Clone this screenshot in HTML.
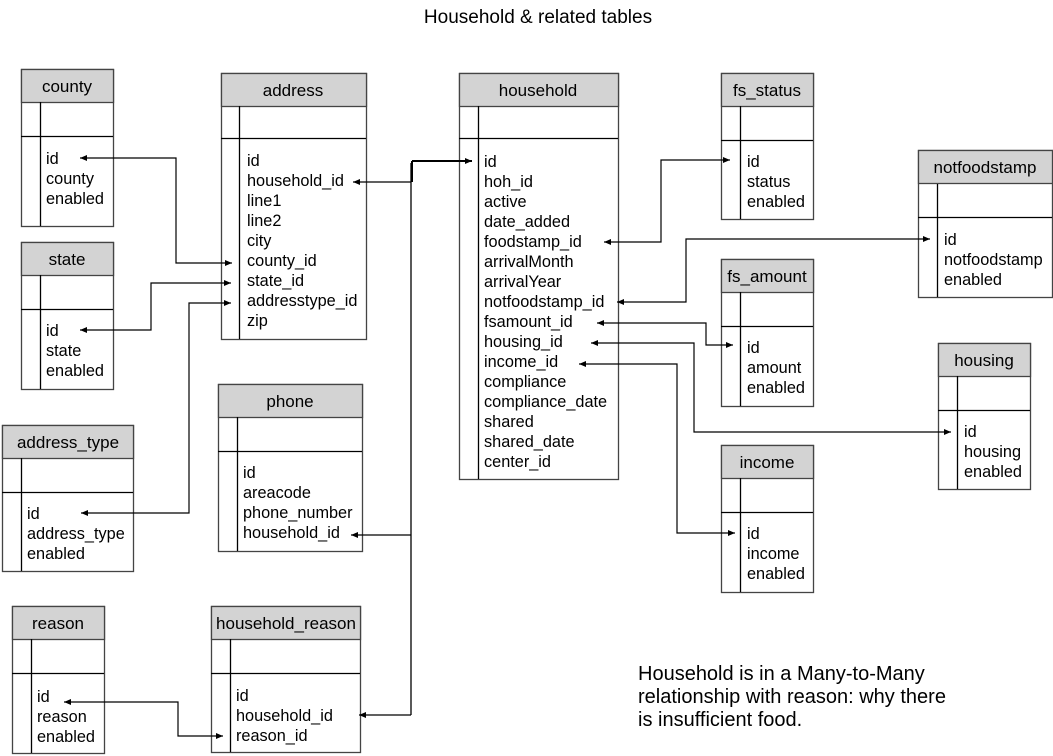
<!DOCTYPE html>
<html><head><meta charset="utf-8"><style>
html,body{margin:0;padding:0;background:#fff;}
svg{display:block;font-family:"Liberation Sans",Arial,sans-serif;}
</style></head><body>
<svg width="1053" height="756" viewBox="0 0 1053 756" xmlns="http://www.w3.org/2000/svg">
<defs>
<marker id="a" markerWidth="8" markerHeight="8" refX="7" refY="4" orient="auto-start-reverse" markerUnits="userSpaceOnUse">
<path d="M0,1 L7,4 L0,7 Z" fill="#000"/></marker>
</defs>
<text x="538" y="23" font-size="19" text-anchor="middle">Household &amp; related tables</text>
<g stroke-width="1.3">
<rect x="21.5" y="69.5" width="92" height="157" fill="#fff" stroke="#444"/>
<rect x="21.5" y="69.5" width="92" height="33" fill="#d3d3d3" stroke="#444"/>
<line x1="21" y1="136.5" x2="113" y2="136.5" stroke="#000"/><line x1="40.5" y1="102" x2="40.5" y2="226" stroke="#000"/>
<rect x="21.5" y="242.5" width="92" height="147" fill="#fff" stroke="#444"/>
<rect x="21.5" y="242.5" width="92" height="33" fill="#d3d3d3" stroke="#444"/>
<line x1="21" y1="309.5" x2="113" y2="309.5" stroke="#000"/><line x1="40.5" y1="275" x2="40.5" y2="389" stroke="#000"/>
<rect x="2.5" y="425.5" width="131" height="146" fill="#fff" stroke="#444"/>
<rect x="2.5" y="425.5" width="131" height="33" fill="#d3d3d3" stroke="#444"/>
<line x1="2" y1="492.5" x2="133" y2="492.5" stroke="#000"/><line x1="21.5" y1="458" x2="21.5" y2="571" stroke="#000"/>
<rect x="12.5" y="606.5" width="92" height="147" fill="#fff" stroke="#444"/>
<rect x="12.5" y="606.5" width="92" height="33" fill="#d3d3d3" stroke="#444"/>
<line x1="12" y1="673.5" x2="104" y2="673.5" stroke="#000"/><line x1="31.5" y1="639" x2="31.5" y2="753" stroke="#000"/>
<rect x="221.5" y="73.5" width="145" height="266" fill="#fff" stroke="#444"/>
<rect x="221.5" y="73.5" width="145" height="33" fill="#d3d3d3" stroke="#444"/>
<line x1="221" y1="138.5" x2="366" y2="138.5" stroke="#000"/><line x1="239.5" y1="106" x2="239.5" y2="339" stroke="#000"/>
<rect x="218.5" y="384.5" width="144" height="167" fill="#fff" stroke="#444"/>
<rect x="218.5" y="384.5" width="144" height="33" fill="#d3d3d3" stroke="#444"/>
<line x1="218" y1="451.5" x2="362" y2="451.5" stroke="#000"/><line x1="237.5" y1="417" x2="237.5" y2="551" stroke="#000"/>
<rect x="211.5" y="606.5" width="149" height="146" fill="#fff" stroke="#444"/>
<rect x="211.5" y="606.5" width="149" height="33" fill="#d3d3d3" stroke="#444"/>
<line x1="211" y1="673.5" x2="360" y2="673.5" stroke="#000"/><line x1="230.5" y1="639" x2="230.5" y2="752" stroke="#000"/>
<rect x="459.5" y="73.5" width="159" height="406" fill="#fff" stroke="#444"/>
<rect x="459.5" y="73.5" width="159" height="33" fill="#d3d3d3" stroke="#444"/>
<line x1="459" y1="138.5" x2="618" y2="138.5" stroke="#000"/><line x1="478.5" y1="106" x2="478.5" y2="479" stroke="#000"/>
<rect x="721.5" y="73.5" width="92" height="146" fill="#fff" stroke="#444"/>
<rect x="721.5" y="73.5" width="92" height="33" fill="#d3d3d3" stroke="#444"/>
<line x1="721" y1="140.5" x2="813" y2="140.5" stroke="#000"/><line x1="740.5" y1="106" x2="740.5" y2="219" stroke="#000"/>
<rect x="721.5" y="259.5" width="92" height="147" fill="#fff" stroke="#444"/>
<rect x="721.5" y="259.5" width="92" height="33" fill="#d3d3d3" stroke="#444"/>
<line x1="721" y1="326.5" x2="813" y2="326.5" stroke="#000"/><line x1="740.5" y1="292" x2="740.5" y2="406" stroke="#000"/>
<rect x="721.5" y="445.5" width="92" height="147" fill="#fff" stroke="#444"/>
<rect x="721.5" y="445.5" width="92" height="33" fill="#d3d3d3" stroke="#444"/>
<line x1="721" y1="512.5" x2="813" y2="512.5" stroke="#000"/><line x1="740.5" y1="478" x2="740.5" y2="592" stroke="#000"/>
<rect x="918.5" y="150.5" width="134" height="147" fill="#fff" stroke="#444"/>
<rect x="918.5" y="150.5" width="134" height="33" fill="#d3d3d3" stroke="#444"/>
<line x1="918" y1="217.5" x2="1052" y2="217.5" stroke="#000"/><line x1="937.5" y1="184" x2="937.5" y2="297" stroke="#000"/>
<rect x="938.5" y="343.5" width="92" height="146" fill="#fff" stroke="#444"/>
<rect x="938.5" y="343.5" width="92" height="33" fill="#d3d3d3" stroke="#444"/>
<line x1="938" y1="410.5" x2="1030" y2="410.5" stroke="#000"/><line x1="957.5" y1="376" x2="957.5" y2="489" stroke="#000"/>
</g>
<g font-size="17" text-anchor="middle">
<text x="67" y="92">county</text>
<text x="67" y="265">state</text>
<text x="68" y="448">address_type</text>
<text x="58" y="629">reason</text>
<text x="293" y="96">address</text>
<text x="290" y="407">phone</text>
<text x="286" y="629">household_reason</text>
<text x="538" y="96">household</text>
<text x="767" y="96">fs_status</text>
<text x="767" y="282">fs_amount</text>
<text x="767" y="468">income</text>
<text x="985" y="173">notfoodstamp</text>
<text x="984" y="366">housing</text>
</g>
<g font-size="16.3">
<text x="46" y="164">id</text><text x="46" y="184">county</text><text x="46" y="204">enabled</text>
<text x="46" y="336">id</text><text x="46" y="356">state</text><text x="46" y="376">enabled</text>
<text x="27" y="519">id</text><text x="27" y="539">address_type</text><text x="27" y="559">enabled</text>
<text x="37" y="702">id</text><text x="37" y="722">reason</text><text x="37" y="742">enabled</text>
<text x="247" y="166">id</text><text x="247" y="186">household_id</text><text x="247" y="206">line1</text><text x="247" y="226">line2</text><text x="247" y="246">city</text><text x="247" y="266">county_id</text><text x="247" y="286">state_id</text><text x="247" y="306">addresstype_id</text><text x="247" y="326">zip</text>
<text x="243" y="478">id</text><text x="243" y="498">areacode</text><text x="243" y="518">phone_number</text><text x="243" y="538">household_id</text>
<text x="236" y="701">id</text><text x="236" y="721">household_id</text><text x="236" y="741">reason_id</text>
<text x="484" y="167">id</text><text x="484" y="187">hoh_id</text><text x="484" y="207">active</text><text x="484" y="227">date_added</text><text x="484" y="247">foodstamp_id</text><text x="484" y="267">arrivalMonth</text><text x="484" y="287">arrivalYear</text><text x="484" y="307">notfoodstamp_id</text><text x="484" y="327">fsamount_id</text><text x="484" y="347">housing_id</text><text x="484" y="367">income_id</text><text x="484" y="387">compliance</text><text x="484" y="407">compliance_date</text><text x="484" y="427">shared</text><text x="484" y="447">shared_date</text><text x="484" y="467">center_id</text>
<text x="747" y="167">id</text><text x="747" y="187">status</text><text x="747" y="207">enabled</text>
<text x="747" y="353">id</text><text x="747" y="373">amount</text><text x="747" y="393">enabled</text>
<text x="747" y="539">id</text><text x="747" y="559">income</text><text x="747" y="579">enabled</text>
<text x="944" y="245">id</text><text x="944" y="265">notfoodstamp</text><text x="944" y="285">enabled</text>
<text x="964" y="437">id</text><text x="964" y="457">housing</text><text x="964" y="477">enabled</text>
</g>
<g fill="none" stroke="#000" stroke-width="1.2">
<path d="M232,263 H176 V158 H80" marker-start="url(#a)" marker-end="url(#a)"/>
<path d="M231,283 H151 V330 H80" marker-start="url(#a)" marker-end="url(#a)"/>
<path d="M231,303 H189 V513 H81" marker-start="url(#a)" marker-end="url(#a)"/>
<path d="M223,736 H178 V702 H64" marker-start="url(#a)" marker-end="url(#a)"/>
<path d="M411,182 H353" marker-end="url(#a)"/>
<path d="M411,535 H351" marker-end="url(#a)"/>
<path d="M411,715 H359" marker-end="url(#a)"/>
<path d="M411,715 V163" stroke-width="1.3"/>
<path d="M412,161 H472" stroke-width="2" marker-end="url(#a)"/>
<path d="M412,161 V182" stroke-width="2"/>
<path d="M730,160 H661 V242 H604" marker-start="url(#a)" marker-end="url(#a)"/>
<path d="M930,239 H686 V302 H617" marker-start="url(#a)" marker-end="url(#a)"/>
<path d="M733,345 H706 V323 H597" marker-start="url(#a)" marker-end="url(#a)"/>
<path d="M951,432 H694 V343 H591" marker-start="url(#a)" marker-end="url(#a)"/>
<path d="M735,533 H677 V364 H579" marker-start="url(#a)" marker-end="url(#a)"/>
</g>
<g font-size="20">
<text x="638" y="680">Household is in a Many-to-Many</text>
<text x="638" y="703">relationship with reason: why there</text>
<text x="638" y="726">is insufficient food.</text>
</g>
</svg>
</body></html>
